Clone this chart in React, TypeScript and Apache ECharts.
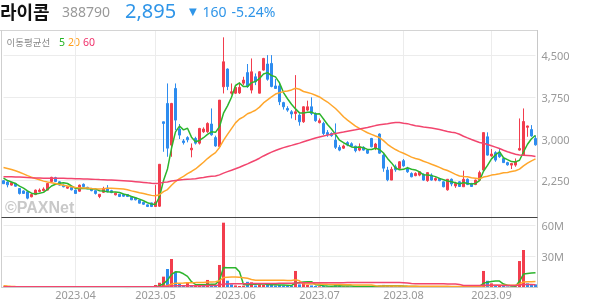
import React, { useEffect, useRef } from "react";
import * as echarts from "echarts";

// ---------- calendar (KRX trading days) ----------
const monthLabels = ["2023.03", "2023.04", "2023.05", "2023.06", "2023.07", "2023.08", "2023.09"];
const marDays = [8, 9, 10, 13, 14, 15, 16, 17, 20, 21, 22, 23, 24, 27, 28, 29, 30, 31];
const aprDays = [3, 4, 5, 6, 7, 10, 11, 12, 13, 14, 17, 18, 19, 20, 21, 24, 25, 26, 27, 28];
const mayDays = [2, 3, 4, 8, 9, 10, 11, 12, 15, 16, 17, 18, 19, 22, 23, 24, 25, 26, 30, 31];
const junDays = [1, 2, 5, 7, 8, 9, 12, 13, 14, 15, 16, 19, 20, 21, 22, 23, 26, 27, 28, 29, 30];
const julDays = [3, 4, 5, 6, 7, 10, 11, 12, 13, 14, 17, 18, 19, 20, 21, 24, 25, 26, 27, 28, 31];
const augDays = [1, 2, 3, 4, 7, 8, 9, 10, 11, 14, 16, 17, 18, 21, 22, 23, 24, 25, 28, 29, 30, 31];
const sepDays = [1, 4, 5, 6, 7, 8, 11, 12, 13, 14, 15, 18];

// ---------- prices ----------
const opens = [
  2250, 2225, 2170, 2200, 2110, 2065, 2050, 1960, 2000, 2055,
  2070, 2080, 2235, 2305, 2230, 2170, 2115, 2125, 2080, 2060,
  2185, 2130, 2110, 2070, 1965, 2040, 2115, 2070, 1995, 2005,
  2000, 2000, 1950, 1940, 1900, 1860, 1815, 1850, 1785, 1790,
  3310, 3640, 2890, 3910, 3180, 2965, 3025, 2805, 3010, 2925,
  3130, 3130, 3270, 3025, 2865, 3940, 4260, 3825, 3825, 3830,
  4005, 4195, 3880, 4120, 3825, 4240, 4350, 4360, 3955, 3955,
  3655, 3550, 3490, 3460, 3430, 3310, 3520, 3580, 3460, 3295,
  3280, 3115, 3100, 2980, 2850, 2835, 2935, 2915, 2870, 2800,
  2850, 2800, 3010, 2835, 3090, 2710, 2440, 2260, 2500, 2470,
  2610, 2470, 2380, 2340, 2350, 2365, 2250, 2350, 2260, 2290,
  2230, 2085, 2275, 2155, 2230, 2140, 2275, 2200, 2180, 2260,
  2440, 3040, 2695, 2755, 2755, 2650, 2575, 2530, 2530, 2800,
  2710, 3210, 3170, 3010,
];
const highs = [
  2260, 2240, 2225, 2210, 2115, 2075, 2060, 2010, 2090, 2110,
  2130, 2210, 2320, 2320, 2240, 2180, 2150, 2130, 2090, 2180,
  2200, 2140, 2120, 2080, 2010, 2140, 2170, 2085, 2035, 2010,
  2010, 2005, 1960, 1945, 1905, 1865, 1820, 1855, 2170, 2550,
  3312, 4000, 3650, 4000, 3270, 3000, 3050, 2920, 3040, 3200,
  3210, 3300, 3550, 3060, 3700, 4830, 4270, 4000, 3960, 4020,
  4120, 4350, 4450, 4180, 4220, 4460, 4510, 4510, 4080, 4030,
  3670, 3590, 3520, 4150, 3460, 3590, 3690, 3750, 3480, 3370,
  3310, 3160, 3120, 3280, 2890, 2900, 2960, 2940, 2880, 2920,
  2870, 2810, 3020, 2930, 3100, 2740, 2500, 2500, 2540, 2600,
  2640, 2500, 2400, 2400, 2420, 2380, 2400, 2380, 2310, 2300,
  2240, 2280, 2290, 2230, 2240, 2430, 2290, 2210, 2270, 2430,
  3115, 3120, 2820, 2780, 2830, 2660, 2590, 2560, 2650, 3370,
  3550, 3240, 3250, 3060,
];
const lows = [
  2190, 2130, 2160, 2140, 2000, 2010, 1915, 1950, 1990, 2040,
  2060, 2075, 2225, 2225, 2160, 2130, 2105, 2075, 2010, 2050,
  2140, 2100, 2060, 2000, 1935, 2030, 2040, 2025, 1985, 1955,
  1960, 1955, 1900, 1895, 1840, 1815, 1775, 1775, 1780, 1780,
  2770, 2680, 2680, 3160, 3000, 2900, 2940, 2670, 2900, 2900,
  3110, 3110, 3060, 2860, 2840, 3820, 3880, 3800, 3810, 3810,
  3970, 3920, 3820, 3970, 3820, 4230, 4050, 3930, 3900, 3610,
  3530, 3490, 3370, 3340, 3240, 3290, 3500, 3430, 3310, 3280,
  3070, 3040, 3040, 2820, 2780, 2820, 2870, 2860, 2760, 2780,
  2790, 2730, 2850, 2800, 2735, 2410, 2240, 2260, 2410, 2460,
  2500, 2390, 2310, 2330, 2330, 2250, 2230, 2250, 2240, 2240,
  2130, 2070, 2150, 2120, 2140, 2140, 2170, 2140, 2170, 2260,
  2430, 2700, 2680, 2590, 2660, 2570, 2520, 2460, 2500, 2790,
  2700, 3040, 3040, 2880,
];
const closes = [
  2195, 2175, 2215, 2150, 2020, 2020, 1935, 2000, 2080, 2080,
  2100, 2200, 2310, 2235, 2170, 2140, 2140, 2085, 2020, 2170,
  2145, 2105, 2070, 2020, 2005, 2110, 2050, 2035, 2025, 1965,
  1970, 1965, 1905, 1905, 1845, 1825, 1785, 1785, 1865, 2545,
  3280, 2835, 3640, 3340, 3070, 2935, 2985, 2835, 2925, 3190,
  3180, 3280, 3075, 2875, 3700, 4390, 3945, 3850, 3930, 3930,
  4060, 3945, 4210, 4030, 4210, 4450, 4075, 3945, 3910, 3670,
  3580, 3520, 3450, 3490, 3310, 3580, 3580, 3460, 3330, 3330,
  3100, 3080, 3060, 2850, 2800, 2875, 2890, 2870, 2790, 2860,
  2800, 2745, 2860, 2910, 2745, 2475, 2265, 2455, 2445, 2590,
  2515, 2410, 2320, 2380, 2410, 2260, 2395, 2260, 2290, 2250,
  2140, 2275, 2190, 2200, 2145, 2275, 2180, 2145, 2260, 2395,
  3115, 2710, 2730, 2620, 2680, 2575, 2535, 2560, 2590, 2830,
  3315, 3235, 3055, 2895,
];
// closes before the visible window (estimated from the moving-average levels at the left edge)
const priorCloses = [
  2250, 2240, 2235, 2245, 2230, 2220, 2225, 2240, 2255, 2260,
  2250, 2235, 2230, 2225, 2240, 2245, 2250, 2235, 2220, 2215,
  2230, 2240, 2250, 2245, 2235, 2230, 2240, 2250, 2255, 2245,
  2240, 2235, 2230, 2245, 2250, 2240, 2235, 2230, 2240, 2250,
  2480, 2620, 2590, 2560, 2600, 2580, 2550, 2570, 2540, 2560,
  2530, 2550, 2520, 2500, 2480, 2400, 2340, 2290, 2260,
];

// ---------- volume (millions of shares) ----------
const volumesM = [
  0.3, 0.2, 0.2, 0.2, 0.3, 0.2, 0.3, 0.2, 0.2, 0.1,
  0.2, 0.3, 0.4, 0.3, 0.2, 0.2, 0.1, 0.2, 0.2, 0.3,
  0.2, 0.1, 0.2, 0.2, 0.2, 0.3, 0.2, 0.1, 0.1, 0.2,
  0.1, 0.1, 0.2, 0.2, 0.2, 0.2, 0.3, 0.3,
  2.4, 4.6, 10.5, 17.9, 27.6, 15.3, 3.5, 2.2, 5.0, 2.0,
  1.8, 2.5, 1.5, 7.3, 2.5, 2.0, 21.8, 62.7, 6.6, 3.0,
  2.0, 1.5, 1.8, 5.5, 5.0, 2.0, 3.0, 2.5, 2.5, 3.0,
  2.0, 2.5, 2.0, 1.5, 1.5, 16.0, 3.0, 4.5, 2.5, 2.0,
  1.5, 1.2, 1.5, 1.0, 1.0, 3.0, 1.5, 1.0, 1.0, 0.8,
  1.0, 1.2, 0.8, 0.8, 1.5, 1.0, 2.0, 2.5, 2.0, 1.5,
  1.0, 1.2, 1.0, 0.8, 0.8, 0.6, 0.7, 0.8, 1.0, 0.7,
  0.6, 0.5, 0.8, 1.2, 0.8, 0.6, 0.6, 1.5, 0.8, 0.6,
  0.8, 2.0, 16.0, 6.5, 4.0, 2.5, 2.0, 1.5, 1.0, 0.8,
  1.2, 25.6, 36.3, 4.0, 3.0, 3.0,
];
const priorVolumesM = [
  0.2, 0.2, 0.2, 0.2, 0.2, 0.2, 0.2, 0.2, 0.2, 0.2,
  0.2, 0.2, 0.2, 0.2, 0.2, 0.2, 0.2, 0.2, 0.2, 0.2,
  0.2, 0.2, 0.2, 0.2, 0.2, 0.2, 0.2, 0.2, 0.2, 0.2,
  0.2, 0.2, 0.2, 0.2, 0.2, 0.2, 0.2, 0.2, 0.2, 0.2,
  8.0, 6.0, 4.0, 3.0, 3.0, 3.0, 4.0, 0.4, 0.3, 0.3,
  0.3, 0.3, 0.3, 0.3, 0.3, 0.3, 0.3, 0.3, 0.3,
];

// ---------- texts ----------
const stockName = "라이콤";
const stockCode = "388790";
const lastPrice = "2,895";
const changeMark = "▼";
const changeAbs = "160";
const changePct = "-5.24%";
const legendTitle = "이동평균선";
const maPeriods = [5, 20, 60];
const priceTicks = [2250, 3000, 3750, 4500];
const volumeTickStep = 30e6;
const watermark = "©PAXNet";

const UP = "#f23d4d";
const DOWN = "#2d8cef";
const MA_COLORS = ["#2db52d", "#ffa62b", "#f2456e"];
const LEGEND_COLORS = ["#22b422", "#ff9f1c", "#f0306a"];

const dayLists = [marDays, aprDays, mayDays, junDays, julDays, augDays, sepDays];
const categories: string[] = [];
const monthStarts = new Set<number>();
dayLists.forEach((days, m) => {
  if (m > 0) monthStarts.add(categories.length);
  days.forEach((d) => categories.push(monthLabels[m] + "." + String(d).padStart(2, "0")));
});

function movingAverage(values: number[], prior: number[], n: number) {
  const all = prior.concat(values);
  const off = prior.length;
  return values.map((_, i) => {
    const end = off + i;
    const start = Math.max(0, end - n + 1);
    let s = 0;
    for (let k = start; k <= end; k++) s += all[k];
    return s / (end - start + 1);
  });
}

export default function App() {
  const ref = useRef<HTMLDivElement>(null);
  useEffect(() => {
    if (!ref.current) return;
    const chart = echarts.init(ref.current, undefined, { renderer: "svg" });
    const volumes = volumesM.map((v) => v * 1e6);
    const priorVolumes = priorVolumesM.map((v) => v * 1e6);
    const candleData = opens.map((o, i) => [o, closes[i], lows[i], highs[i]]);
    const volData = volumes.map((v, i) => {
      const prev = i === 0 ? priorCloses[priorCloses.length - 1] : closes[i - 1];
      return { value: v, itemStyle: { color: closes[i] >= prev ? UP : DOWN } };
    });
    const isMonthStart = (index: number) => monthStarts.has(index);
    const font = "'Noto Sans', 'Noto Sans CJK KR', sans-serif";

    const priceMA = maPeriods.map((n, k) => ({
      type: "line",
      xAxisIndex: 0,
      yAxisIndex: 0,
      data: movingAverage(closes, priorCloses, n),
      showSymbol: false,
      symbol: "none",
      silent: true,
      lineStyle: { width: 1.5, color: MA_COLORS[k] },
      z: 3,
    }));
    const volMA = maPeriods.map((n, k) => ({
      type: "line",
      xAxisIndex: 1,
      yAxisIndex: 1,
      data: movingAverage(volumes, priorVolumes, n),
      showSymbol: false,
      symbol: "none",
      silent: true,
      lineStyle: { width: 1.5, color: MA_COLORS[k] },
      z: 3,
    }));

    const splitLine = { show: true, interval: isMonthStart, lineStyle: { color: "#ececec", width: 1 } };

    const headerText = (text: string, x: number, y: number, size: number, fill: string, family: string, weight = "normal") => ({
      type: "text",
      x,
      y,
      silent: true,
      style: { text, fill, font: `${weight} ${size}px ${family}`, verticalAlign: "middle", lineHeight: size },
    });

    const option: any = {
      animation: false,
      textStyle: { fontFamily: font },
      grid: [
        { left: 3.5, right: 58.5, top: 30, height: 187 },
        { left: 3.5, right: 58.5, top: 217, height: 70.5 },
      ],
      xAxis: [
        {
          type: "category", gridIndex: 0, data: categories, boundaryGap: false,
          axisLine: { show: false }, axisTick: { show: false }, axisLabel: { show: false },
          splitLine,
        },
        {
          type: "category", gridIndex: 1, data: categories, boundaryGap: false,
          axisLine: { show: false }, axisTick: { show: false },
          axisLabel: {
            show: true, interval: isMonthStart, formatter: (v: string) => v.slice(0, 7),
            color: "#999", fontSize: 11, margin: 1, fontFamily: font,
          },
          splitLine,
        },
      ],
      yAxis: [
        {
          type: "value", gridIndex: 0, position: "right", min: 1596, max: 4962, scale: true,
          axisLine: { show: false },
          axisTick: { show: false, customValues: priceTicks },
          axisLabel: {
            customValues: priceTicks, formatter: (v: number) => v.toLocaleString("en-US"),
            color: "#999", fontSize: 11, margin: 6, fontFamily: font,
          },
          splitLine: { show: true, lineStyle: { color: "#ececec" } },
        },
        {
          type: "value", gridIndex: 1, position: "right", min: 0, max: 68.2e6, interval: volumeTickStep,
          axisLine: { show: false }, axisTick: { show: false },
          axisLabel: {
            showMinLabel: false, showMaxLabel: false,
            formatter: (v: number) => (v === 0 ? "" : Math.round(v / 1e6) + "M"),
            color: "#999", fontSize: 11, margin: 6, fontFamily: font,
          },
          splitLine: { show: true, lineStyle: { color: "#ececec" } },
        },
      ],
      series: [
        {
          type: "candlestick", xAxisIndex: 0, yAxisIndex: 0, data: candleData,
          barWidth: 3, clip: false, silent: true,
          itemStyle: { color: UP, color0: DOWN, borderColor: UP, borderColor0: DOWN, borderWidth: 1 },
        },
        ...priceMA,
        {
          type: "bar", xAxisIndex: 1, yAxisIndex: 1, data: volData, barWidth: 3, clip: false, silent: true,
        },
        ...volMA,
      ],
      graphic: [
        { type: "line", z: 50, silent: true, shape: { x1: 0, y1: 30.5, x2: 537.5, y2: 30.5 }, style: { stroke: "#d4d4d4", lineWidth: 1 } },
        { type: "line", z: 50, silent: true, shape: { x1: 1.5, y1: 30, x2: 1.5, y2: 288 }, style: { stroke: "#cfcfcf", lineWidth: 1 } },
        { type: "line", z: 50, silent: true, shape: { x1: 537.5, y1: 30, x2: 537.5, y2: 288 }, style: { stroke: "#c8c8c8", lineWidth: 1 } },
        { type: "line", z: 50, silent: true, shape: { x1: 1.5, y1: 217.5, x2: 537.5, y2: 217.5 }, style: { stroke: "#444", lineWidth: 1 } },
        { type: "line", z: 50, silent: true, shape: { x1: 1.5, y1: 287.5, x2: 537.5, y2: 287.5 }, style: { stroke: "#cccccc", lineWidth: 1 } },
        headerText(stockName, 0, 10.5, 18, "#111", "'Noto Sans CJK KR'", "bold"),
        headerText(stockCode, 62, 11.5, 14, "#999", "'Noto Sans'"),
        headerText(lastPrice, 125, 10, 20, "#2f95e8", "'Noto Sans'"),
        headerText(changeMark, 189, 11.5, 10, "#2f95e8", "'DejaVu Sans'"),
        headerText(changeAbs, 202.5, 11.5, 14, "#2f95e8", "'Noto Sans'"),
        headerText(changePct, 231.5, 11.5, 14, "#2f95e8", "'Noto Sans'"),
        headerText(legendTitle, 6.5, 41.5, 9.5, "#888", "'Noto Sans CJK KR'"),
        headerText(String(maPeriods[0]), 59, 41.5, 10.5, LEGEND_COLORS[0], "'Noto Sans'"),
        headerText(String(maPeriods[1]), 68, 41.5, 10.5, LEGEND_COLORS[1], "'Noto Sans'"),
        headerText(String(maPeriods[2]), 83, 41.5, 10.5, LEGEND_COLORS[2], "'Noto Sans'"),
        { ...headerText(watermark, 5, 207, 16, "#c9c9c9", "'Liberation Sans'", "bold"), z: 1 },
      ],
    };
    chart.setOption(option);
    return () => chart.dispose();
  }, []);
  return <div ref={ref} style={{ position: "fixed", left: 0, top: 0, width: 594, height: 304 }} />;
}
